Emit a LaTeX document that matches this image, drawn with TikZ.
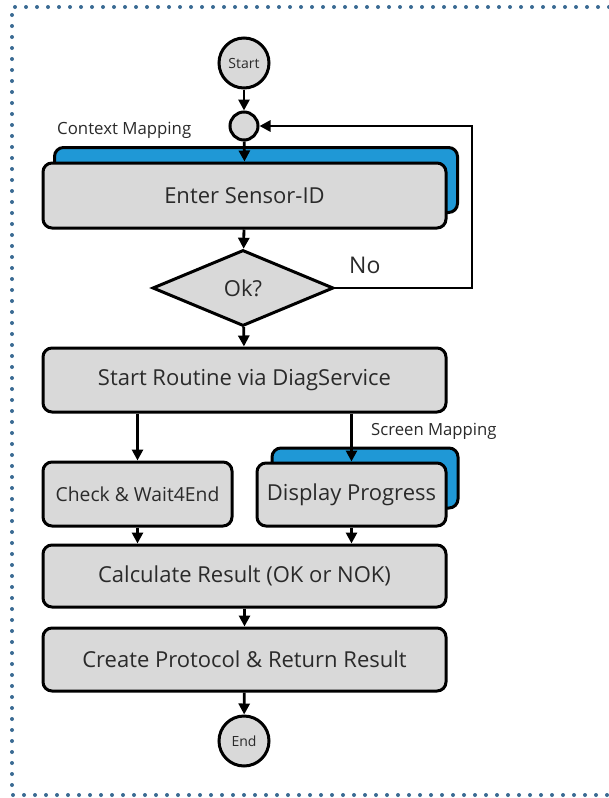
\documentclass[tikz,border=0pt]{standalone}
\usepackage{fontspec}
\setmainfont{Open Sans}
\usetikzlibrary{shapes.geometric,arrows.meta}
\definecolor{boxgray}{HTML}{D9D9D9}
\definecolor{mapblue}{HTML}{1F98D6}
\definecolor{dotblue}{HTML}{3A6B93}
\definecolor{txt}{HTML}{2A2A2A}
\begin{document}
\begin{tikzpicture}[x=1pt,y=-1pt,
  box/.style={draw=black,line width=3pt,fill=boxgray,rounded corners=9pt,inner sep=0pt,text=txt,font=\fontsize{22}{26}\selectfont},
  backbox/.style={draw=black,line width=3pt,fill=mapblue,rounded corners=9pt,inner sep=0pt},
  term/.style={circle,draw=black,line width=3pt,fill=boxgray,minimum size=50pt,inner sep=0pt,text=txt,font=\fontsize{14}{16}\selectfont},
  flow/.style={line width=2.8pt,-{Triangle[length=11pt,width=11pt]}},
  lbl/.style={text=txt,inner sep=0pt,anchor=west}]
\useasboundingbox (0,0) rectangle (609,798);
\fill[white] (0,0) rectangle (609,798);
\draw[dotblue,line width=4pt,line cap=round,dash pattern=on 0pt off 11pt] (609,7) -- (12,7) -- (12,795) -- (609,795);

\node[term] (start) at (244,63) {Start};
\node[circle,draw=black,line width=3pt,fill=boxgray,minimum size=28pt,inner sep=0pt] (junc) at (244,126) {};
\node[lbl,font=\fontsize{16.8}{19}\selectfont] (ctx) at (57,130) {Context Mapping};

\node[backbox,minimum width=403pt,minimum height=65pt] (enterbk) at (256,180) {};
\node[box,minimum width=403pt,minimum height=65pt] (enter) at (244.5,195.5) {Enter Sensor-ID};

\node[diamond,draw=black,line width=3pt,fill=boxgray,minimum width=181pt,minimum height=76pt,inner sep=0pt,text=txt,font=\fontsize{22}{26}\selectfont] (ok) at (243,288) {Ok?};
\node[lbl,font=\fontsize{23}{27}\selectfont] (no) at (349,265) {No};

\node[box,minimum width=403pt,minimum height=64pt] (sr) at (244.5,380) {Start Routine via DiagService};

\node[lbl,font=\fontsize{16.7}{19}\selectfont] (scr) at (371,431) {Screen Mapping};
\node[backbox,minimum width=186pt,minimum height=60pt] (dispbk) at (365,478) {};
\node[box,minimum width=189pt,minimum height=63pt] (disp) at (351.5,494.5) {Display Progress};
\node[box,minimum width=189pt,minimum height=64pt,font=\fontsize{19.3}{22}\selectfont] (check) at (137.5,494) {Check \& Wait4End};

\node[box,minimum width=403pt,minimum height=62pt] (calc) at (244.5,576) {Calculate Result (OK or NOK)};
\node[box,minimum width=403pt,minimum height=63pt] (create) at (244.5,659.5) {Create Protocol \& Return Result};
\node[term] (end) at (244,741) {End};

\draw[flow] (start) -- (junc);
\draw[flow] (junc) -- (enter.north);
\draw[flow] (enter) -- (ok);
\draw[flow] (ok.east) -- (472,288) |- (junc.east);
\draw[flow] (ok) -- (sr);
\draw[flow] (check.north |- sr.south) -- (check.north);
\draw[flow] (disp.north |- sr.south) -- (disp.north);
\draw[flow] (check.south) -- (check.south |- calc.north);
\draw[flow] (disp.south) -- (disp.south |- calc.north);
\draw[flow] (calc) -- (create);
\draw[flow] (create) -- (end);
\end{tikzpicture}
\end{document}
